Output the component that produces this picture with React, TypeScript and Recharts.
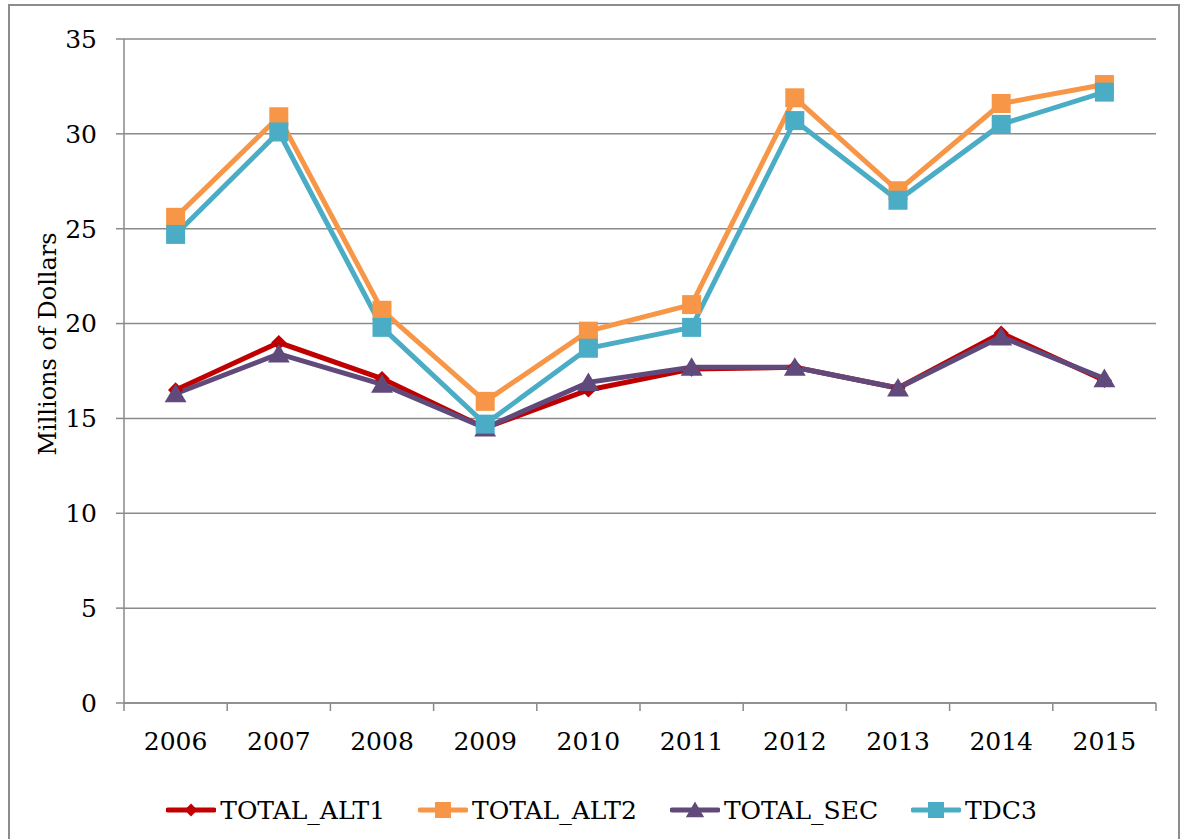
import { LineChart, Line, XAxis, YAxis, CartesianGrid, Legend } from "recharts";

const years = ["2006", "2007", "2008", "2009", "2010", "2011", "2012", "2013", "2014", "2015"];
const totalAlt1 = [16.5, 19.0, 17.1, 14.5, 16.5, 17.6, 17.7, 16.6, 19.5, 17.0];
const totalAlt2 = [25.6, 30.9, 20.7, 15.9, 19.6, 21.0, 31.9, 27.0, 31.6, 32.6];
const totalSec = [16.3, 18.4, 16.8, 14.5, 16.9, 17.7, 17.7, 16.6, 19.3, 17.1];
const tdc3 = [24.7, 30.1, 19.8, 14.7, 18.7, 19.8, 30.7, 26.5, 30.5, 32.2];
const yTicks = [0, 5, 10, 15, 20, 25, 30, 35];

// x sits in the middle of each year's band, so the tick marks fall between years
const data = years.map((year, i) => ({
  x: i + 0.5,
  year,
  TOTAL_ALT1: totalAlt1[i],
  TOTAL_ALT2: totalAlt2[i],
  TOTAL_SEC: totalSec[i],
  TDC3: tdc3[i],
}));
const xTicks = Array.from({ length: years.length * 2 + 1 }, (_, i) => i / 2);

const FONT = "'DejaVu Serif', serif";
const GRID = "#8a8a8a";

const series = [
  { key: "TOTAL_ALT1", color: "#C00000", shape: "diamond" },
  { key: "TOTAL_ALT2", color: "#F79646", shape: "square" },
  { key: "TOTAL_SEC", color: "#604A7B", shape: "triangle" },
  { key: "TDC3", color: "#4BACC6", shape: "square" },
];

function Marker({ cx, cy, shape, color, size }: any) {
  if (cx == null || cy == null) return null;
  const h = size / 2;
  if (shape === "square") {
    return <rect x={cx - h} y={cy - h} width={size} height={size} fill={color} />;
  }
  if (shape === "triangle") {
    return (
      <polygon
        points={`${cx},${cy - h * 1.05} ${cx + h * 1.15},${cy + h * 0.9} ${cx - h * 1.15},${cy + h * 0.9}`}
        fill={color}
      />
    );
  }
  const d = h * 0.8;
  return (
    <polygon points={`${cx},${cy - d} ${cx + d},${cy} ${cx},${cy + d} ${cx - d},${cy}`} fill={color} />
  );
}

function XTick({ x, y, payload }: any) {
  const v = payload.value;
  if (Number.isInteger(v)) {
    return <line x1={x} x2={x} y1={y} y2={y + 8} stroke={GRID} strokeWidth={1.5} />;
  }
  return (
    <text x={x} y={y + 47} textAnchor="middle" fontSize={25} fontFamily={FONT} fill="#000">
      {years[Math.floor(v)]}
    </text>
  );
}

function LegendContent() {
  return (
    <div
      style={{
        height: 40,
        display: "flex",
        alignItems: "center",
        justifyContent: "center",
        paddingLeft: 70,
        fontFamily: FONT,
        fontSize: 25,
        color: "#000",
      }}
    >
      {series.map((s) => (
        <div key={s.key} style={{ display: "flex", alignItems: "center", marginRight: 33 }}>
          <svg width={50} height={24}>
            <line x1={2} x2={48} y1={12} y2={12} stroke={s.color} strokeWidth={5} strokeLinecap="round" />
            <Marker cx={25} cy={12} shape={s.shape} color={s.color} size={16} />
          </svg>
          <span style={{ marginLeft: 4 }}>{s.key}</span>
        </div>
      ))}
    </div>
  );
}

export default function App() {
  return (
    <div
      style={{
        position: "fixed",
        top: 4,
        left: 8,
        width: 1168,
        height: 850,
        border: "2px solid #8c8c8c",
        background: "#fff",
      }}
    >
      <LineChart width={1168} height={830} data={data} margin={{ top: 33, right: 22, left: 0, bottom: 6 }}>
        <CartesianGrid vertical={false} stroke={GRID} strokeWidth={1.5} />
        <XAxis
          dataKey="x"
          type="number"
          domain={[0, 10]}
          ticks={xTicks}
          interval={0}
          tickLine={false}
          tickSize={0}
          tickMargin={0}
          axisLine={{ stroke: GRID, strokeWidth: 1.5 }}
          tick={<XTick />}
          height={87}
        />
        <YAxis
          domain={[0, 35]}
          ticks={yTicks}
          width={114}
          tickSize={8}
          tickMargin={19}
          tickLine={{ stroke: GRID, strokeWidth: 1.5 }}
          axisLine={{ stroke: GRID, strokeWidth: 1.5 }}
          tick={{ fontSize: 25, fontFamily: FONT, fill: "#000" }}
          label={({ viewBox }: any) => (
            <text
              x={38}
              y={viewBox.y + viewBox.height / 2 - 27}
              transform={`rotate(-90, 38, ${viewBox.y + viewBox.height / 2 - 27})`}
              textAnchor="middle"
              dominantBaseline="central"
              fontSize={24}
              fontFamily={FONT}
              fill="#000"
            >
              Millions of Dollars
            </text>
          )}
        />
        <Legend verticalAlign="bottom" content={<LegendContent />} />
        {series.map((s) => (
          <Line
            key={s.key}
            dataKey={s.key}
            stroke={s.color}
            strokeWidth={5}
            isAnimationActive={false}
            dot={(p: any) => <Marker key={`${s.key}-${p.index}`} cx={p.cx} cy={p.cy} shape={s.shape} color={s.color} size={19} />}
            activeDot={false}
          />
        ))}
      </LineChart>
    </div>
  );
}
